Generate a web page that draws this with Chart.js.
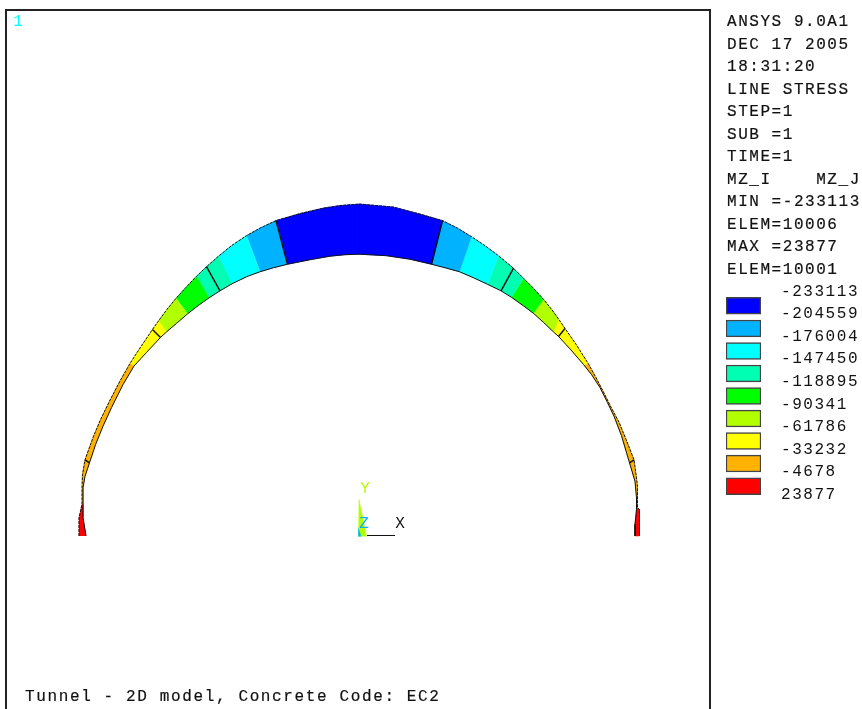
<!DOCTYPE html>
<html>
<head>
<meta charset="utf-8">
<title>Tunnel - 2D model</title>
<script src="https://cdn.jsdelivr.net/npm/chart.js@4"></script>
<style>
html, body { margin: 0; padding: 0; background: #fff; overflow: hidden; }
#frame { position: absolute; left: 5px; top: 9px; width: 702px; height: 700px; border: 2px solid #222; border-bottom: none; }
#key { position: absolute; left: 720px; top: 265px; width: 142px; height: 262px; }
pre { position: absolute; margin: 0; color: #111; font: 16px/22.55px "Liberation Mono", monospace; letter-spacing: 1.55px; -webkit-text-stroke: 0.2px #111; }
#info { left: 727px; top: 11px; }
#note { left: 25px; top: 686px; letter-spacing: 1.63px; }
</style>
</head>
<body>
<div id="frame"><canvas id="arch"></canvas></div>
<div id="key"><canvas id="scale"></canvas></div>
<pre id="info"></pre>
<pre id="note"></pre>
<script>
var infoLines = ['ANSYS 9.0A1', 'DEC 17 2005', '18:31:20', 'LINE STRESS', 'STEP=1', 'SUB =1', 'TIME=1',
	'MZ_I    MZ_J', 'MIN =-233113', 'ELEM=10006', 'MAX =23877', 'ELEM=10001'];
var noteText = 'Tunnel - 2D model, Concrete Code: EC2';

// contour levels and the colour of each interval
var levels = [-233113, -204559, -176004, -147450, -118895, -90341, -61786, -33232, -4678, 23877];
var bandColors = ['#0000ff', '#00b2ff', '#00ffff', '#00ffb2', '#00ff00', '#b2ff00', '#ffff00', '#ffb200', '#ff0000'];

// arch stations, left springing to right springing
var outerX = [-280.5, -280.5, -277.5, -277.5, -277, -274.5, -266, -259, -250, -239, -229.5, -221.5, -207, -201, -192.5, -183.5, -173.5, -163, -153, -141, -128, -113, -99.5, -83.5, -59.5, -36, -19.5, 0,
	34, 60.5, 83, 98, 112, 125.5, 139, 154, 164, 174, 184, 192.5, 199, 205.5, 217, 229, 236.5, 244, 251.5, 259.5, 266.5, 274.5, 277, 278, 278, 280, 280, 280];
var outerY = [0.5, 18.5, 32, 48.5, 61.5, 76.5, 100, 116.5, 135, 156, 172.5, 185, 206.5, 215, 226.5, 237.5, 248.5, 259.5, 269, 279.5, 290, 300, 307.5, 315, 322, 327.5, 330, 331.5,
	328.5, 321.5, 315, 307.5, 299, 290, 280, 267.5, 257.5, 247.5, 236.5, 226, 217, 207.5, 191, 172, 158.5, 144, 129, 114, 97, 76.5, 58.5, 50, 28.5, 27, 12, 0.5];
var innerX = [-273.5, -276.5, -276.5, -276.5, -274.5, -270, -264, -256.5, -248, -236.5, -225.5, -213, -199, -193, -183, -172, -161, -150.5, -139.5, -127.5, -113, -99.5, -86, -72, -49.5, -29.5, -14.5, 0,
	27, 50.5, 72, 85.5, 100, 114, 128, 141.5, 152, 164, 174, 184, 194, 199, 211.5, 224, 232, 240.5, 248, 254.5, 262, 270, 275.5, 277, 277, 277, 275.5, 275.5];
var innerY = [0.5, 19, 32, 48.5, 60, 73.5, 91.5, 110, 128.5, 151.5, 170, 183.5, 198.5, 204, 212.5, 222, 230.5, 238, 245, 252, 259, 264, 268, 271.5, 276, 279.5, 281, 281.5,
	280, 276.5, 271.5, 268, 264, 258, 251.5, 245, 238.5, 230, 222.5, 213.5, 204, 199.5, 186, 171.5, 161.5, 148.5, 133.5, 120, 100.5, 73.5, 55, 38.5, 28.5, 27, 12, 0.5];
// contour bands along the arch: band number, first and last station
var runBand = [8, 7, 6, 5, 4, 3, 2, 1, 0, 1, 2, 3, 4, 5, 6, 7, 8];
var runStart = [0, 2, 10, 13, 15, 17, 19, 21, 23, 30, 32, 34, 36, 38, 40, 43, 52];
var runEnd = [2, 10, 13, 15, 17, 19, 21, 23, 30, 32, 34, 36, 38, 40, 43, 52, 55];
// stations where two elements meet
var joints = [5, 12, 18, 23, 27, 30, 35, 41, 49];

// global triad at the origin
var triadWedgeX = [-1, -0.5, 7];
var triadWedgeY = [0, 37, 0];
var triadSliverX = [-1, -1, 1.5];
var triadSliverY = [0, 8, 0];
var triadAxisX = [7.5, 35.5];
var triadAxisY = [1, 1];
var triadLabels = [
	{ text: 'Y', x: 5.5, y: 48, color: '#b2ff00' },
	{ text: 'Z', x: 4.5, y: 13, color: '#00b2ff' },
	{ text: 'X', x: 40.5, y: 12.5, color: '#111' },
	{ text: '1', x: -341.5, y: 513, color: '#00ffff' }
];

document.getElementById('info').textContent = infoLines.join('\n');
document.getElementById('note').textContent = noteText;

function points(xs, ys) {
	return xs.map(function (x, i) { return { x: x, y: ys[i] }; });
}

var datasets = [];
// edges and joints go on top of the colours
datasets.push({ data: points(outerX, outerY), borderColor: '#111', borderWidth: 1, borderDash: [3, 1], order: 0 });
datasets.push({ data: points(innerX, innerY), borderColor: '#111', borderWidth: 1, order: 0 });
joints.forEach(function (j) {
	datasets.push({ data: [{ x: outerX[j], y: outerY[j] }, { x: innerX[j], y: innerY[j] }], borderColor: '#111', borderWidth: j === 27 ? 1 : 1.5, order: 0 });
});
runBand.forEach(function (band, r) {
	var outerSide = points(outerX, outerY).slice(runStart[r], runEnd[r] + 1);
	var innerSide = points(innerX, innerY).slice(runStart[r], runEnd[r] + 1).reverse();
	datasets.push({
		data: outerSide.concat(innerSide),
		borderColor: bandColors[band], backgroundColor: bandColors[band], borderWidth: 0.5, fill: 'shape', order: 1
	});
});
datasets.push({ data: points(triadAxisX, triadAxisY), borderColor: '#111', borderWidth: 1, order: 0 });
datasets.push({ data: points(triadSliverX, triadSliverY), borderColor: '#00b2ff', backgroundColor: '#00b2ff', borderWidth: 0.5, fill: 'shape', order: 1 });
datasets.push({ data: points(triadWedgeX, triadWedgeY), borderColor: '#b2ff00', backgroundColor: '#b2ff00', borderWidth: 0.5, fill: 'shape', order: 2 });

var triadText = {
	id: 'triadText',
	afterDatasetsDraw: function (chart) {
		var ctx = chart.ctx;
		ctx.save();
		ctx.font = '16px "Liberation Mono", monospace';
		ctx.textAlign = 'center';
		ctx.textBaseline = 'middle';
		triadLabels.forEach(function (l) {
			ctx.fillStyle = l.color;
			ctx.fillText(l.text, chart.scales.x.getPixelForValue(l.x), chart.scales.y.getPixelForValue(l.y));
		});
		ctx.restore();
	}
};

new Chart(document.getElementById('arch'), {
	type: 'scatter',
	data: { datasets: datasets },
	plugins: [triadText],
	options: {
		responsive: true,
		maintainAspectRatio: false,
		animation: false,
		layout: { padding: 0 },
		showLine: true,
		elements: { point: { radius: 0 }, line: { tension: 0 } },
		plugins: { legend: { display: false }, tooltip: { enabled: false } },
		scales: {
			x: { type: 'linear', display: false, min: -352.5, max: 349.5 },
			y: { type: 'linear', display: false, min: -174, max: 524 }
		}
	}
});

// colour key: one floating bar per interval, ticks on the levels
var keyGap = 3600;
var keyData = bandColors.map(function (c, i) {
	return {
		data: [[levels[i] + keyGap, levels[i + 1] - keyGap]],
		backgroundColor: c, borderColor: '#444', borderWidth: 1.5, borderSkipped: false,
		grouped: false, barPercentage: 1, categoryPercentage: 1
	};
});

var keySpacing = {
	id: 'keySpacing',
	beforeDraw: function (chart) { chart.ctx.letterSpacing = '1.55px'; }
};

new Chart(document.getElementById('scale'), {
	type: 'bar',
	data: { labels: ['MZ'], datasets: keyData },
	plugins: [keySpacing],
	options: {
		responsive: true,
		maintainAspectRatio: false,
		animation: false,
		layout: { padding: { left: 6, top: 0, bottom: 0, right: 0 } },
		plugins: { legend: { display: false }, tooltip: { enabled: false } },
		scales: {
			x: { display: false },
			y: {
				position: 'right',
				reverse: true,
				min: levels[0],
				max: levels[levels.length - 1],
				afterFit: function (scale) { scale.width = 101; },
				afterBuildTicks: function (scale) { scale.ticks = levels.map(function (v) { return { value: v }; }); },
				grid: { display: false, drawTicks: false },
				border: { display: false },
				ticks: {
					autoSkip: false,
					padding: 20,
					labelOffset: -3,
					color: '#111',
					crossAlign: 'near',
					font: { family: '"Liberation Mono", monospace', size: 16 },
					callback: function (v) { return String(v); }
				}
			}
		}
	}
});
</script>
</body>
</html>
